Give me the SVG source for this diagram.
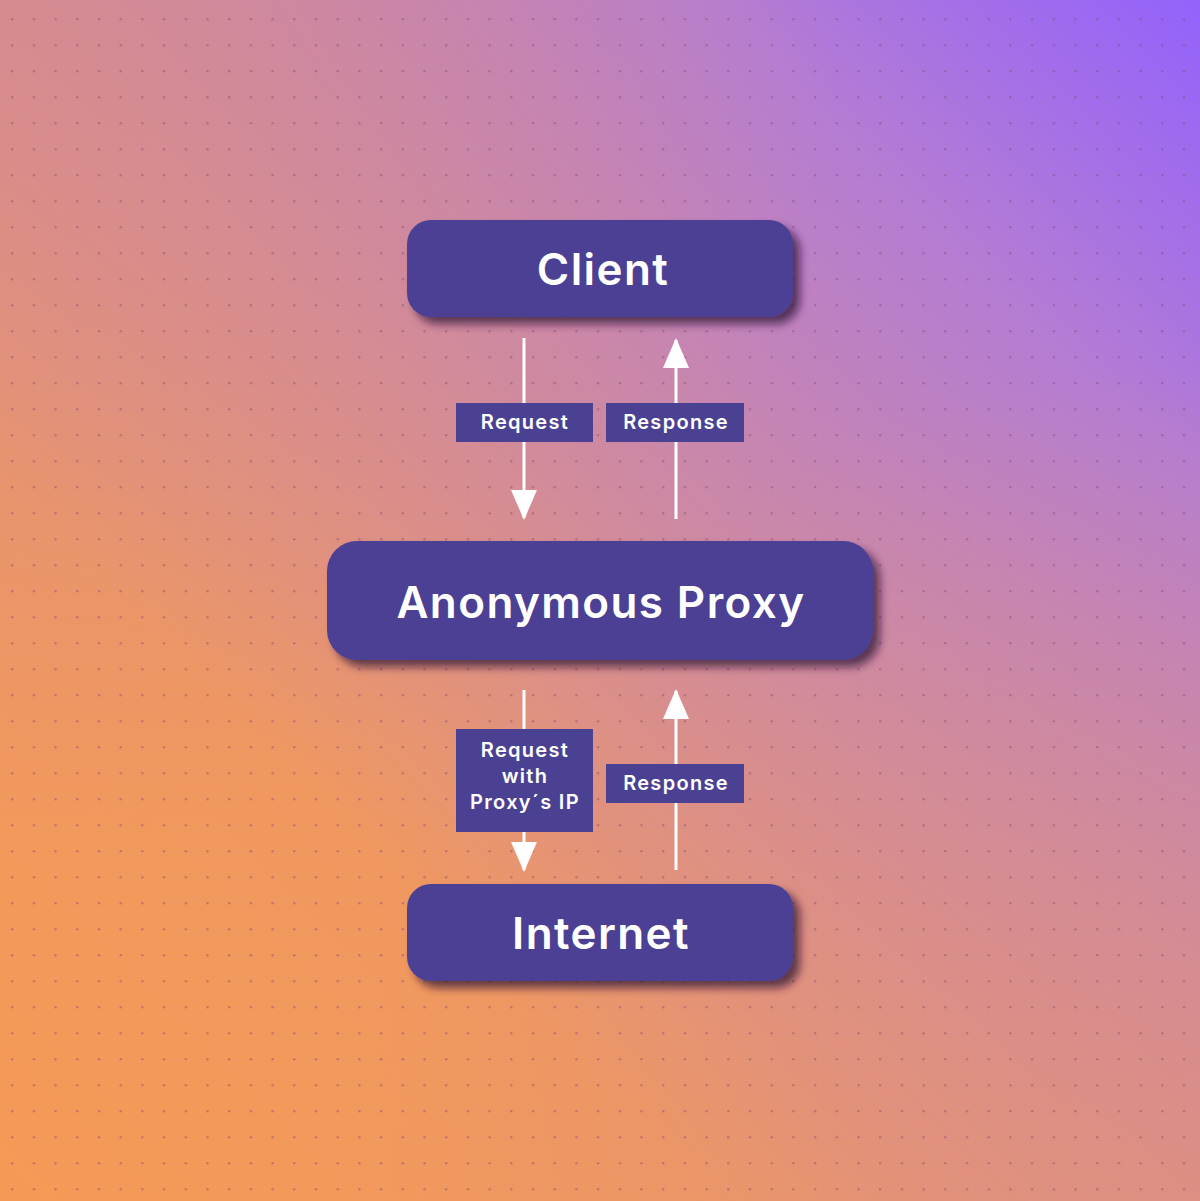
<svg xmlns="http://www.w3.org/2000/svg" width="1200" height="1201" viewBox="0 0 1200 1201">
<defs>
<linearGradient id="bg" x1="0" y1="1" x2="1" y2="0">
<stop offset="0" stop-color="#f59a56"/>
<stop offset="0.3" stop-color="#f09860"/>
<stop offset="0.55" stop-color="#cf8aa0"/>
<stop offset="0.8" stop-color="#b47cd4"/>
<stop offset="1" stop-color="#9362fb"/>
</linearGradient>
<radialGradient id="bg2" cx="0" cy="0" r="0.7">
<stop offset="0" stop-color="#d68a8e" stop-opacity="0.7"/>
<stop offset="1" stop-color="#d68a8e" stop-opacity="0"/>
</radialGradient>
<radialGradient id="bg3" cx="1" cy="1" r="0.7">
<stop offset="0" stop-color="#e0907c" stop-opacity="0.7"/>
<stop offset="1" stop-color="#e0907c" stop-opacity="0"/>
</radialGradient>
<pattern id="dots" x="11" y="18" width="21.7" height="26" patternUnits="userSpaceOnUse">
<circle cx="1.2" cy="1.2" r="1.2" fill="#7a4a70" fill-opacity="0.45"/>
</pattern>
<filter id="sh" x="-10%" y="-20%" width="125%" height="150%">
<feDropShadow dx="7" dy="7" stdDeviation="4" flood-color="#2a1530" flood-opacity="0.7"/>
</filter>
<marker id="ah" viewBox="0 0 30 26" refX="28" refY="13" markerWidth="30" markerHeight="26" markerUnits="userSpaceOnUse" orient="auto">
<path d="M0,0 L30,13 L0,26 Z" fill="#ffffff"/>
</marker>
<style>
.node{fill:#4b4193;filter:url(#sh)}
.nt{fill:#ffffff;font-family:Inter,"Noto Sans",sans-serif;font-weight:600;font-size:44px;letter-spacing:1.4px;text-anchor:middle}
.lb{fill:#4b4193}
.lt{fill:#ffffff;font-family:Inter,"Noto Sans",sans-serif;font-weight:600;font-size:20px;letter-spacing:1.3px;text-anchor:middle}
.ln{stroke:#ffffff;stroke-width:3;fill:none;marker-end:url(#ah)}
</style>
</defs>
<rect width="1200" height="1201" fill="url(#bg)"/>
<rect width="1200" height="1201" fill="url(#bg2)"/>
<rect width="1200" height="1201" fill="url(#bg3)"/>
<rect width="1200" height="1201" fill="url(#dots)"/>
<g id="connectors">
<line class="ln" x1="524" y1="338" x2="524" y2="518"/>
<line class="ln" x1="676" y1="519" x2="676" y2="340"/>
<line class="ln" x1="524" y1="690" x2="524" y2="870"/>
<line class="ln" x1="676" y1="870" x2="676" y2="691"/>
</g>
<g id="label-request">
<rect class="lb" x="456" y="403" width="137" height="39"/>
<text class="lt" x="525" y="429">Request</text>
</g>
<g id="label-response1">
<rect class="lb" x="606" y="403" width="138" height="39"/>
<text class="lt" x="676" y="429">Response</text>
</g>
<g id="label-request-ip">
<rect class="lb" x="456" y="729" width="137" height="103"/>
<text class="lt" x="525" y="757">Request</text>
<text class="lt" x="525" y="783">with</text>
<text class="lt" x="525" y="809">Proxy´s IP</text>
</g>
<g id="label-response2">
<rect class="lb" x="606" y="764" width="138" height="39"/>
<text class="lt" x="676" y="790">Response</text>
</g>
<g id="node-client">
<rect class="node" x="407" y="220" width="386" height="97" rx="24"/>
<text class="nt" x="603" y="285">Client</text>
</g>
<g id="node-proxy">
<rect class="node" x="327" y="541" width="546" height="119" rx="30"/>
<text class="nt" x="601" y="618">Anonymous Proxy</text>
</g>
<g id="node-internet">
<rect class="node" x="407" y="884" width="386" height="97" rx="24"/>
<text class="nt" x="601" y="949">Internet</text>
</g>
</svg>
